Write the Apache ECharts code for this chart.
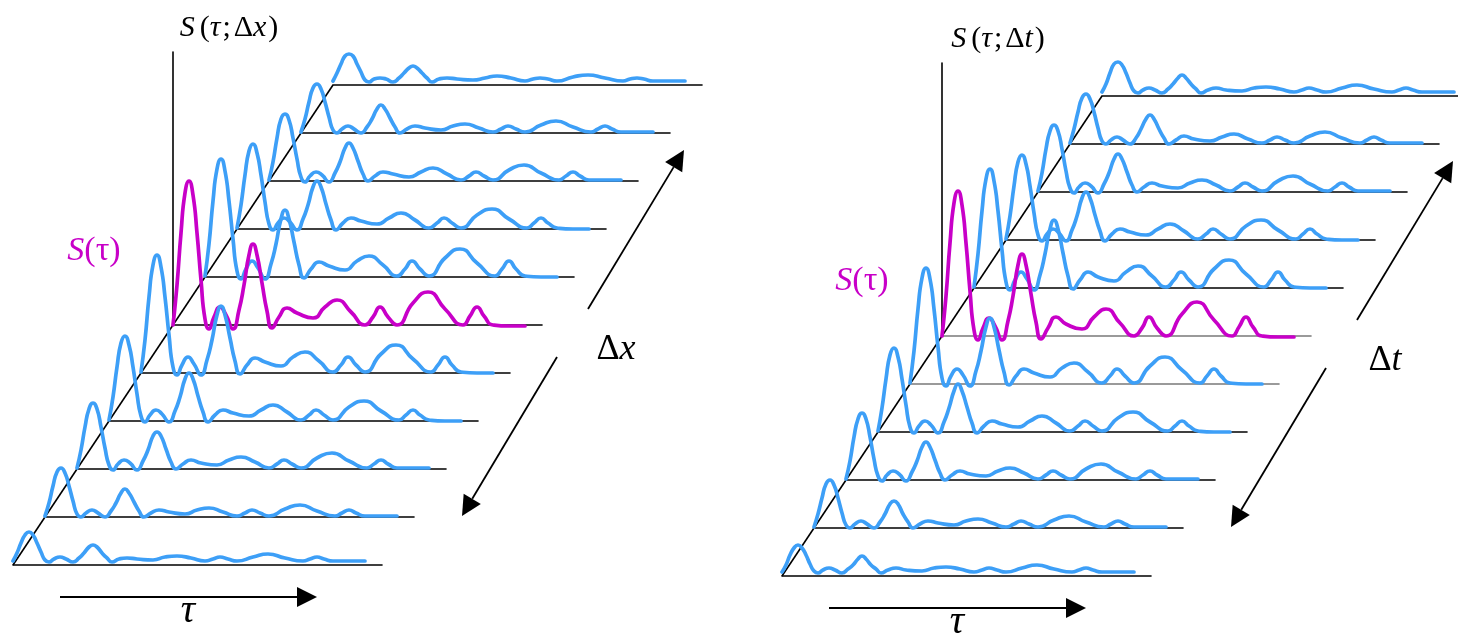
<!DOCTYPE html>
<html><head><meta charset="utf-8">
<script src="https://cdn.jsdelivr.net/npm/echarts/dist/echarts.min.js"></script>
<style>html,body{margin:0;padding:0;background:#fff}#c{width:1458px;height:636px}</style>
</head><body><div id="c"></div>
<script>
// delay samples tau (arbitrary units), shared by every trace
const tau = [0,4,8,12,16,20,24,28,32,36,41,47,53,60,66,71,76,80,84,89,94,99,106,114,124,140,152,164,178,192,200,207,215,224,240,255,272,290,297,304,311,320,336,352];

// Left panel: S(tau; dx) for 11 spatial separations (index 0 = front/bottom), index 5 = S(tau)
const dxTrace0  = [4,12,22,30,33,30,22,13,5,3,6,8,6,3,7,12,18,20,18,12,7,3,6,7,6,5,8,9,7,4,6,8,6,4,8,11,7,4,6,8,6,4,4,4];
const dxTrace1  = [1,14,31,45,49,44,31,16,3,0,4,7,4,0,6,14,24,28,24,15,6,0,4,7,5,3,7,9,5,1,4,7,4,1,8,12,6,1,4,7,4,1,1,1];
const dxTrace2  = [1,19,42,60,66,60,42,21,4,-1,5,9,6,-1,8,19,33,37,33,20,7,0,5,9,6,4,9,12,7,1,5,9,5,1,11,16,8,1,5,9,5,1,1,1];
const dxTrace3  = [1,24,54,78,85,76,54,27,5,-1,6,11,7,-1,10,24,42,48,42,25,9,-1,6,11,8,5,11,16,9,1,6,11,6,1,14,20,10,1,6,11,6,1,0,0];
const dxTrace4  = [1,33,76,108,118,106,76,38,6,-2,8,16,9,-2,13,33,58,67,58,35,12,-1,8,15,11,7,16,21,12,1,8,16,8,1,19,28,14,1,8,16,8,1,0,0];
const dxTrace5  = [0,40,92,132,144,130,92,45,6,-4,8,18,10,-4,15,40,70,81,70,42,14,-3,8,17,12,7,18,25,13,0,8,18,8,0,22,33,16,0,9,18,9,0,-1,-1];
const dxTrace6  = [1,33,76,108,118,106,76,38,6,-2,8,16,9,-2,13,33,58,67,58,35,12,-1,8,15,11,7,16,21,12,1,8,16,8,1,19,28,14,1,8,16,8,1,0,0];
const dxTrace7  = [1,24,54,78,85,76,54,27,5,-1,6,11,7,-1,10,24,42,48,42,25,9,-1,6,11,8,5,11,16,9,1,6,11,6,1,14,20,10,1,6,11,6,1,0,0];
const dxTrace8  = [1,19,43,62,67,61,43,22,4,-1,5,9,6,-1,8,19,33,38,33,20,7,0,5,9,7,4,9,13,7,1,5,9,5,1,11,16,8,1,5,9,5,1,1,1];
const dxTrace9  = [1,14,31,45,49,44,31,16,3,0,4,7,4,0,6,14,24,28,24,15,6,0,4,7,5,3,7,9,5,1,4,7,4,1,8,12,6,1,4,7,4,1,1,1];
const dxTrace10 = [4,12,21,29,31,29,21,13,5,3,6,7,6,3,7,12,17,19,17,12,7,3,6,7,6,5,7,9,7,4,6,7,6,4,8,10,7,4,6,7,6,4,4,4];

// Right panel: S(tau; dt) for 11 time separations, index 5 = S(tau)
const dtTrace0  = [4,11,21,28,31,28,21,12,5,3,6,8,6,3,7,11,17,20,17,11,7,3,6,8,6,5,8,9,7,4,6,8,6,4,8,11,7,4,6,8,6,4,4,4];
const dtTrace1  = [1,14,30,44,48,43,30,15,3,0,4,7,4,0,6,14,24,27,24,14,6,0,4,7,5,3,7,9,5,1,4,7,4,1,8,12,6,1,4,7,4,1,1,1];
const dtTrace2  = [1,19,43,61,67,61,43,21,4,-1,5,9,6,-1,8,19,33,38,33,20,7,0,5,9,6,4,9,12,7,1,5,9,5,1,11,16,8,1,5,9,5,1,1,1];
const dtTrace3  = [1,24,53,77,84,75,53,27,5,-1,6,11,7,-1,10,24,41,48,41,25,9,-1,6,11,8,5,11,16,9,1,6,11,6,1,14,20,10,1,6,11,6,1,0,0];
const dtTrace4  = [1,33,75,106,116,105,75,37,6,-2,8,15,9,-2,13,33,57,66,57,34,12,-1,8,15,11,7,16,21,12,1,8,15,8,1,18,27,14,1,8,15,8,1,0,0];
const dtTrace5  = [0,40,93,133,145,131,93,45,6,-4,8,18,10,-4,15,40,71,82,71,42,14,-3,8,19,12,7,19,27,13,0,8,19,8,0,22,34,16,0,9,19,9,0,-1,-1];
const dtTrace6  = [1,34,77,109,119,107,77,38,6,-2,8,16,9,-2,13,34,59,68,59,35,12,-1,8,16,11,7,16,22,12,1,8,16,8,1,19,28,14,1,8,16,8,1,0,0];
const dtTrace7  = [1,24,54,78,85,76,54,27,5,-1,6,11,7,-1,10,24,42,48,42,25,9,-1,6,11,8,5,11,16,9,1,6,11,6,1,14,20,10,1,6,11,6,1,0,0];
const dtTrace8  = [1,19,43,61,67,61,43,21,4,-1,5,9,6,-1,8,19,33,38,33,20,7,0,5,9,6,4,9,12,7,1,5,9,5,1,11,16,8,1,5,9,5,1,1,1];
const dtTrace9  = [1,15,32,46,50,45,32,16,3,0,4,7,4,0,6,15,25,29,25,15,6,0,4,8,5,3,7,10,5,1,4,7,4,1,8,12,6,1,4,7,4,1,1,1];
const dtTrace10 = [4,12,23,32,34,31,23,13,5,3,6,8,6,3,7,12,18,21,18,12,7,3,6,8,6,5,8,9,7,4,6,8,6,4,8,11,7,4,6,8,6,4,4,4];

const refIndex = 5;               // trace drawn as S(tau)
const tauMax = 369;               // baseline length (tau units)
const sMax = 273;                 // vertical axis extent (S units)

// ---- layout / style ----
const W = 1458, H = 636;
const STEP_X = 32, STEP_Y = 48;
const BLUE = '#3d9ff7', MAGENTA = '#c800c8';
const SERIF = '"Liberation Serif","DejaVu Serif",serif';

const panels = [
  { traces: [dxTrace0,dxTrace1,dxTrace2,dxTrace3,dxTrace4,dxTrace5,dxTrace6,dxTrace7,dxTrace8,dxTrace9,dxTrace10],
    ox: 13, oy: 565, axisVar: 'x', refLabel: [81, -314], greyBase: [] },
  { traces: [dtTrace0,dtTrace1,dtTrace2,dtTrace3,dtTrace4,dtTrace5,dtTrace6,dtTrace7,dtTrace8,dtTrace9,dtTrace10],
    ox: 782, oy: 576, axisVar: 't', refLabel: [80, -295], greyBase: [4,5] }
];

const grid = [], xAxis = [], yAxis = [], series = [];
panels.forEach((p, pi) => {
  p.traces.forEach((vals, i) => {
    const gi = grid.length;
    const isRef = i === refIndex;
    grid.push({ left: p.ox + i*STEP_X, bottom: H - (p.oy - i*STEP_Y), width: tauMax, height: sMax,
                containLabel: false, outerBoundsMode: 'none' });
    xAxis.push({ type: 'value', gridIndex: gi, min: 0, max: tauMax, z: 2*(11-i),
      axisLine: { show: true, lineStyle: { color: p.greyBase.includes(i) ? '#7a7a7a' : '#000', width: 1.6 } },
      axisTick: { show: false }, axisLabel: { show: false }, splitLine: { show: false } });
    yAxis.push({ type: 'value', gridIndex: gi, min: 0, max: sMax, z: 2*(11-i),
      axisLine: { show: isRef, lineStyle: { color: '#000', width: 1.6 } },
      axisTick: { show: false }, axisLabel: { show: false }, splitLine: { show: false } });
    series.push({ type: 'line', xAxisIndex: gi, yAxisIndex: gi, clip: false,
      data: tau.map((t, j) => [t, vals[j]]), smooth: 0.55, symbol: 'none', silent: true,
      z: 2*(11-i) + 1,
      lineStyle: { color: isRef ? MAGENTA : BLUE, width: 3.7, cap: 'round', join: 'round' } });
  });
});

const chart = echarts.init(document.getElementById('c'), null, { renderer: 'canvas' });
chart.setOption({ animation: false, backgroundColor: '#fff', grid, xAxis, yAxis, series });

function arrow(sx, sy, tx, ty) {
  const dx = tx - sx, dy = ty - sy, len = Math.hypot(dx, dy), ux = dx/len, uy = dy/len;
  const L = 20, w = 10, bx = tx - ux*L, by = ty - uy*L;
  return [
    { type: 'line', silent: true, z: 1, shape: { x1: sx, y1: sy, x2: bx, y2: by }, style: { stroke: '#000', lineWidth: 1.8 } },
    { type: 'polygon', silent: true, z: 1, shape: { points: [[tx, ty], [bx - uy*w, by + ux*w], [bx + uy*w, by - ux*w]] }, style: { fill: '#000' } }
  ];
}
function richStyles(size, color) {
  const base = { fontFamily: SERIF, fontSize: size, fill: color };
  return {
    i: Object.assign({ fontStyle: 'italic' }, base),
    n: Object.assign({ fontStyle: 'normal' }, base),
    p: Object.assign({ fontStyle: 'normal', padding: [0, 0, 0, 5] }, base),
    q: Object.assign({ fontStyle: 'normal', padding: [0, 0, 0, 3] }, base),
    r: Object.assign({ fontStyle: 'normal', padding: [0, 0, 0, 2] }, base)
  };
}
function text(x, y, str, size, color) {
  return { type: 'text', silent: true, z: 30, x, y,
    style: { text: str, rich: richStyles(size, color), fontFamily: SERIF, fontSize: size, fill: color, align: 'center', verticalAlign: 'middle' } };
}

const graphic = [];
panels.forEach((p, pi) => {
  const base = pi * 11;
  const org = p.traces.map((_, i) => chart.convertToPixel({ gridIndex: base + i }, [0, 0]));
  for (let i = 0; i < org.length - 1; i++) {
    graphic.push({ type: 'line', silent: true, z: 1,
      shape: { x1: org[i][0], y1: org[i][1], x2: org[i+1][0], y2: org[i+1][1] },
      style: { stroke: '#000', lineWidth: 1.6 } });
  }
  const [ox, oy] = org[0];
  const v = p.axisVar;
  graphic.push(text(ox + 216, oy - 537, '{i|S}{p|(}{i|τ}{r|;}{q|Δ}{i|' + v + '}{r|)}', 30, '#000'));
  graphic.push(text(ox + p.refLabel[0], oy + p.refLabel[1], '{i|S}{n|(τ)}', 34, MAGENTA));
  graphic.push(...arrow(ox + 47, oy + 32, ox + 304, oy + 32));
  graphic.push(text(ox + 175, oy + 46, '{i|τ}', 40, '#000'));
  graphic.push(text(ox + 603, oy - 215, '{n|Δ}{i|' + v + '}', 36, '#000'));
  graphic.push(...arrow(ox + 575, oy - 256, ox + 671, oy - 415));
  graphic.push(...arrow(ox + 544, oy - 208, ox + 449, oy - 49));
});
chart.setOption({ graphic });
</script></body></html>
